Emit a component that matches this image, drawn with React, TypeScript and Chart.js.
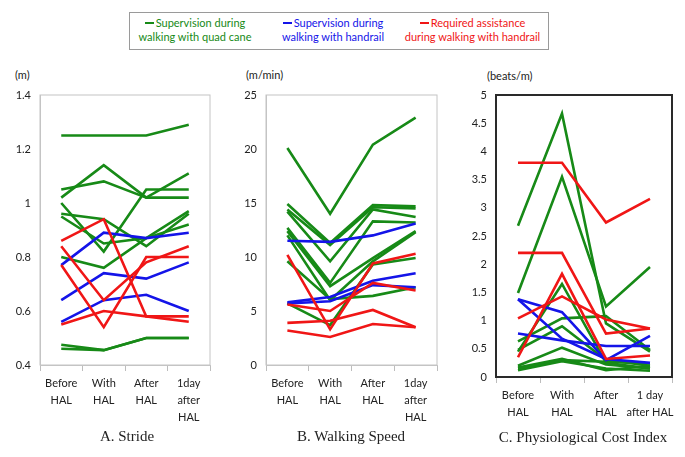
import React, { useEffect, useRef } from "react";
import { Chart, registerables } from "chart.js";
Chart.register(...registerables);

const GREEN = "#178a17";
const BLUE = "#1414e8";
const RED = "#f01616";

const strideLabels = [["Before", "HAL"], ["With", "HAL"], ["After", "HAL"], ["1day", "after", "HAL"]];
const speedLabels = [["Before", "HAL"], ["With", "HAL"], ["After", "HAL"], ["1day", "after", "HAL"]];
const pciLabels = [["Before", "HAL"], ["With", "HAL"], ["After", "HAL"], ["1 day", "after HAL"]];

const strideGreen = [
  [1.25, 1.25, 1.25, 1.29],
  [1.05, 1.08, 1.02, 1.11],
  [1.02, 1.14, 1.02, 1.02],
  [1.0, 0.82, 1.05, 1.05],
  [0.96, 0.94, 0.84, 0.96],
  [0.95, 0.85, 0.87, 0.97],
  [0.8, 0.76, 0.87, 0.92],
  [0.475, 0.455, 0.5, 0.5],
  [0.46, 0.455, 0.5, 0.5],
];
const strideBlue = [
  [0.77, 0.89, 0.87, 0.89],
  [0.64, 0.74, 0.72, 0.78],
  [0.56, 0.64, 0.66, 0.6],
];
const strideRed = [
  [0.86, 0.94, 0.58, 0.58],
  [0.84, 0.64, 0.78, 0.84],
  [0.77, 0.54, 0.8, 0.8],
  [0.55, 0.6, 0.58, 0.56],
];

const speedGreen = [
  [20.1, 14.0, 20.4, 22.9],
  [14.9, 11.3, 14.8, 14.7],
  [14.4, 11.1, 14.6, 14.5],
  [14.2, 9.6, 14.4, 13.7],
  [12.7, 7.6, 13.3, 13.2],
  [12.4, 7.3, 9.9, 12.4],
  [12.0, 6.0, 9.6, 12.3],
  [9.6, 6.1, 6.4, 7.2],
  [5.7, 3.7, 9.3, 9.9],
];
const speedBlue = [
  [11.5, 11.4, 12.0, 13.1],
  [5.8, 6.3, 7.8, 8.5],
  [5.7, 5.9, 7.4, 7.2],
];
const speedRed = [
  [10.2, 3.3, 9.4, 10.3],
  [5.6, 5.0, 7.6, 6.9],
  [3.9, 4.1, 5.1, 3.5],
  [3.2, 2.6, 3.8, 3.5],
];

const pciGreen = [
  [2.68, 4.67, 0.95, 0.45],
  [1.49, 3.55, 1.25, 1.95],
  [0.45, 1.65, 0.25, 0.15],
  [0.63, 1.04, 1.08, 0.48],
  [0.48, 0.9, 0.3, 0.2],
  [0.2, 0.52, 0.22, 0.15],
  [0.15, 0.3, 0.27, 0.24],
  [0.12, 0.28, 0.15, 0.11],
  [0.17, 0.32, 0.12, 0.2],
];
const pciBlue = [
  [1.38, 1.15, 0.3, 0.73],
  [0.77, 0.65, 0.55, 0.55],
  [1.38, 0.68, 0.32, 0.25],
];
const pciRed = [
  [3.8, 3.8, 2.74, 3.16],
  [2.2, 2.2, 0.77, 0.86],
  [1.04, 1.43, 1.02, 0.86],
  [0.35, 1.83, 0.32, 0.38],
];

const LABEL_FONT = "Lato, 'Open Sans', sans-serif";

type PanelProps = {
  left: number;
  top: number;
  width: number;
  height: number;
  areaLeft: number;
  areaRight: number;
  areaTop: number;
  areaBottom: number;
  labels: any[];
  green: number[][];
  blue: number[][];
  red: number[][];
  min: number;
  max: number;
  step: number;
  frameColor: string;
  frameWidth: number;
};

function Panel(p: PanelProps) {
  const ref = useRef<HTMLCanvasElement | null>(null);
  useEffect(() => {
    if (!ref.current) return;
    const mk = (arr: number[][], color: string) =>
      arr.map((d) => ({
        data: d,
        borderColor: color,
        backgroundColor: color,
        borderWidth: 2.6,
        pointRadius: 0,
        tension: 0,
        fill: false,
      }));
    const datasets = [...mk(p.red, RED), ...mk(p.blue, BLUE), ...mk(p.green, GREEN)];
    const frame = {
      id: "frame",
      beforeDatasetsDraw(chart: any) {
        const { ctx, chartArea } = chart;
        ctx.save();
        ctx.strokeStyle = p.frameColor;
        ctx.lineWidth = p.frameWidth;
        ctx.strokeRect(chartArea.left, chartArea.top, chartArea.right - chartArea.left, chartArea.bottom - chartArea.top);
        ctx.restore();
      },
    };
    const chart = new Chart(ref.current, {
      type: "line",
      data: { labels: p.labels, datasets },
      options: {
        responsive: false,
        animation: false,
        layout: {
          padding: {
            left: 0,
            top: p.areaTop,
            right: p.width - p.areaRight,
            bottom: 0,
          },
        },
        plugins: { legend: { display: false }, tooltip: { enabled: false }, title: { display: false } },
        scales: {
          x: {
            type: "category",
            offset: true,
            grid: {
              offset: true,
              drawOnChartArea: false,
              drawTicks: true,
              tickLength: 6,
              color: "#bdbdbd",
            },
            border: { color: p.frameColor, width: p.frameWidth },
            ticks: {
              color: "#222",
              font: { family: LABEL_FONT, size: 11, lineHeight: 1.55 },
              padding: 4,
              maxRotation: 0,
              autoSkip: false,
            },
            afterFit(scale: any) {
              scale.height = p.height - p.areaBottom;
            },
          },
          y: {
            min: p.min,
            max: p.max,
            grid: { display: false, drawTicks: false },
            border: { color: p.frameColor, width: p.frameWidth },
            ticks: {
              stepSize: p.step,
              color: "#222",
              font: { family: LABEL_FONT, size: 11 },
              padding: 9,
              callback: (v: any) => String(Number(Number(v).toFixed(2))),
            },
            afterFit(scale: any) {
              scale.width = p.areaLeft;
            },
          },
        },
      },
      plugins: [frame],
    } as any);
    return () => chart.destroy();
  }, []);
  return (
    <div style={{ position: "absolute", left: p.left, top: p.top, width: p.width, height: p.height }}>
      <canvas ref={ref} width={p.width} height={p.height} style={{ width: p.width, height: p.height, display: "block" }} />
    </div>
  );
}

const textBase: React.CSSProperties = {
  position: "absolute",
  fontFamily: LABEL_FONT,
  fontSize: 11,
  lineHeight: "14px",
  whiteSpace: "nowrap",
};

function Dash({ color }: { color: string }) {
  return (
    <span
      style={{
        display: "inline-block",
        width: 9,
        height: 2,
        background: color,
        verticalAlign: "middle",
        marginRight: 2,
        marginBottom: 2,
      }}
    />
  );
}

export default function App() {
  return (
    <div style={{ position: "absolute", left: 0, top: 0, width: 685, height: 457, background: "#fff", overflow: "hidden" }}>
      <div style={{ position: "absolute", left: 129, top: 12, width: 418, height: 36, border: "1px solid #9a9a9a" }} />
      <div style={{ ...textBase, left: 129, top: 16, width: 132, textAlign: "center", color: GREEN }}>
        <div><Dash color={GREEN} />Supervision during</div>
        <div>walking with quad cane</div>
      </div>
      <div style={{ ...textBase, left: 268, top: 16, width: 130, textAlign: "center", color: BLUE }}>
        <div><Dash color={BLUE} />Supervision during</div>
        <div>walking with handrail</div>
      </div>
      <div style={{ ...textBase, left: 400, top: 16, width: 145, textAlign: "center", color: RED }}>
        <div><Dash color={RED} />Required assistance</div>
        <div>during walking with handrail</div>
      </div>

      <div style={{ ...textBase, left: 15, top: 68, color: "#222" }}>(m)</div>
      <div style={{ ...textBase, left: 246, top: 68, color: "#222" }}>(m/min)</div>
      <div style={{ ...textBase, left: 487, top: 69, color: "#222" }}>(beats/m)</div>

      <Panel left={0} top={60} width={230} height={385} areaLeft={40} areaRight={210} areaTop={35} areaBottom={305}
        labels={strideLabels} green={strideGreen} blue={strideBlue} red={strideRed} min={0.4} max={1.4} step={0.2}
        frameColor="#c4c4c4" frameWidth={1} />
      <Panel left={230} top={60} width={225} height={385} areaLeft={36} areaRight={207} areaTop={35} areaBottom={305}
        labels={speedLabels} green={speedGreen} blue={speedBlue} red={speedRed} min={0} max={25} step={5}
        frameColor="#c4c4c4" frameWidth={1} />
      <Panel left={455} top={60} width={230} height={385} areaLeft={41} areaRight={217} areaTop={35} areaBottom={317}
        labels={pciLabels} green={pciGreen} blue={pciBlue} red={pciRed} min={0} max={5} step={0.5}
        frameColor="#2a2a2a" frameWidth={2} />

      <div style={{ position: "absolute", left: 27, top: 428, width: 200, textAlign: "center", fontFamily: "'Liberation Serif', 'DejaVu Serif', serif", fontSize: 15, color: "#222" }}>A. Stride</div>
      <div style={{ position: "absolute", left: 251, top: 428, width: 200, textAlign: "center", fontFamily: "'Liberation Serif', 'DejaVu Serif', serif", fontSize: 15, color: "#222" }}>B. Walking Speed</div>
      <div style={{ position: "absolute", left: 473, top: 429, width: 220, textAlign: "center", fontFamily: "'Liberation Serif', 'DejaVu Serif', serif", fontSize: 15, color: "#222" }}>C. Physiological Cost Index</div>
    </div>
  );
}
